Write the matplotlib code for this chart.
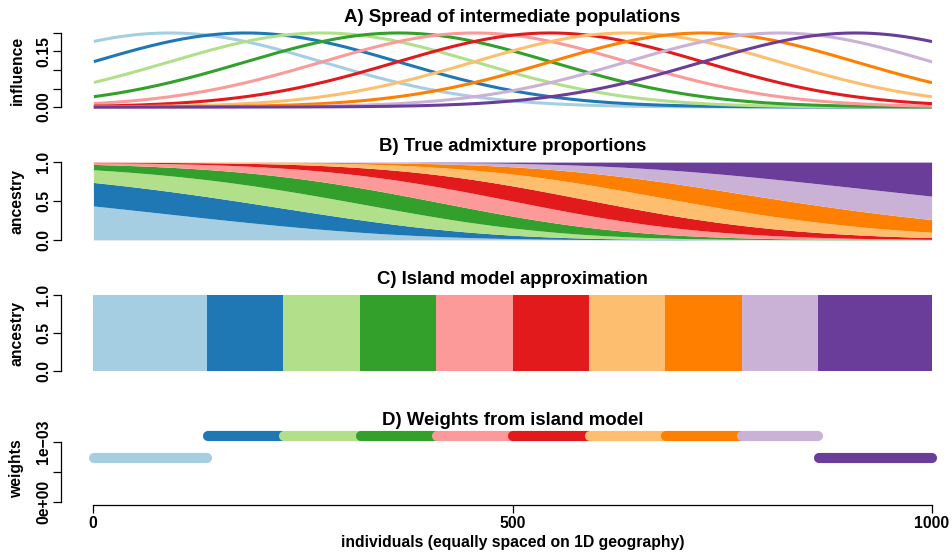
import numpy as np
import matplotlib
matplotlib.use('Agg')
import matplotlib.pyplot as plt

plt.rcParams['font.family'] = ['Liberation Sans', 'DejaVu Sans']
plt.rcParams['font.weight'] = 'bold'

# Paired palette, one colour per intermediate population
colors = ['#A6CEE3', '#1F78B4', '#B2DF8A', '#33A02C', '#FB9A99',
          '#E31A1C', '#FDBF6F', '#FF7F00', '#CAB2D6', '#6A3D9A']

# population centres along the 1D geography and the spread of each one
centers = [91, 182, 273, 364, 455, 545, 636, 727, 818, 909]
spread = 183
peak = 0.2
n_ind = 1000

# island model: boundaries between islands and the weight given to each
boundaries = [0, 136, 227, 318, 409, 500, 591, 682, 773, 864, 1000]
weights = [0.00073, 0.0011, 0.0011, 0.0011, 0.0011,
           0.0011, 0.0011, 0.0011, 0.0011, 0.00073]

x = np.arange(1, n_ind + 1)
influence = np.array([peak * np.exp(-(x - c) ** 2 / (2.0 * spread ** 2)) for c in centers])
admix = influence / influence.sum(axis=0)

FS = 11.3
TFS = 13.4

W, H = 952, 553
fig = plt.figure(figsize=(W / 100, H / 100), dpi=100)

def add_panel(top, bottom):
    left, right = 93, 932
    return fig.add_axes([left / W, 1 - bottom / H, (right - left) / W, (bottom - top) / H])

def r_ylim(ax, lo, hi):
    pad = 0.04 * (hi - lo)
    ax.set_ylim(lo - pad, hi + pad)

def style(ax, title, ylabel, ticks, labels):
    ax.set_xlim(0, n_ind)
    for s in ['top', 'right', 'bottom']:
        ax.spines[s].set_visible(False)
    ax.spines['left'].set_position(('outward', 23))
    ax.spines['left'].set_bounds(ticks[0], ticks[-1])
    ax.spines['left'].set_linewidth(0.9)
    ax.set_xticks([])
    ax.set_yticks(ticks)
    ax.set_yticklabels(labels, rotation=90, va='center', fontsize=FS, fontweight='bold')
    ax.tick_params(axis='y', length=5.8, width=0.9, pad=1.5)
    ax.set_title(title, fontsize=TFS, fontweight='bold', pad=5.8)
    ax.set_ylabel(ylabel, fontsize=FS, fontweight='bold')
    ax.yaxis.set_label_coords((17 - 93) / 839, 0.5)
    ax.yaxis.label.set_va('center')

# A) influence curves
axA = add_panel(30, 110)
for k in range(len(centers)):
    axA.plot(x, influence[k], color=colors[k], lw=2.2, solid_capstyle='butt')
r_ylim(axA, 0, 0.2)
style(axA, 'A) Spread of intermediate populations', 'influence',
      [0, 0.05, 0.10, 0.15, 0.20], ['0.00', '', '', '0.15', ''])

# B) stacked admixture proportions
axB = add_panel(159, 243)
cum = np.vstack([np.zeros(n_ind), np.cumsum(admix, axis=0)])
for k in range(len(centers)):
    axB.fill_between(x - 0.5, cum[k], cum[k + 1], step='post', color=colors[k], lw=0)
r_ylim(axB, 0, 1)
style(axB, 'B) True admixture proportions', 'ancestry', [0, 0.5, 1.0], ['0.0', '0.5', '1.0'])

# C) island blocks
axC = add_panel(292, 374)
lefts = np.array(boundaries[:-1])
widths = np.diff(boundaries)
axC.bar(lefts, np.ones(len(lefts)), width=widths, align='edge', color=colors, lw=0)
r_ylim(axC, 0, 1)
style(axC, 'C) Island model approximation', 'ancestry', [0, 0.5, 1.0], ['0.0', '0.5', '1.0'])

# D) island weights as thick segments
axD = add_panel(433, 504.5)
for k in range(len(weights)):
    axD.plot([boundaries[k] + 1, boundaries[k + 1]], [weights[k], weights[k]],
             color=colors[k], lw=7.3, solid_capstyle='round', clip_on=False)
r_ylim(axD, 0, max(weights))
style(axD, 'D) Weights from island model', 'weights',
      [0, 0.0005, 0.001], ['0e+00', '', '1e\u221203'])
axD.spines['bottom'].set_visible(True)
axD.spines['bottom'].set_bounds(0, n_ind)
axD.spines['bottom'].set_linewidth(0.9)
axD.set_xticks([0, 500, 1000])
axD.set_xticklabels(['0', '500', '1000'], fontsize=FS, fontweight='bold')
axD.tick_params(axis='x', length=5.8, width=0.9, pad=2.5)
axD.set_xlabel('individuals (equally spaced on 1D geography)', fontsize=FS,
               fontweight='bold', labelpad=3)

fig.savefig('out.png', dpi=100)
